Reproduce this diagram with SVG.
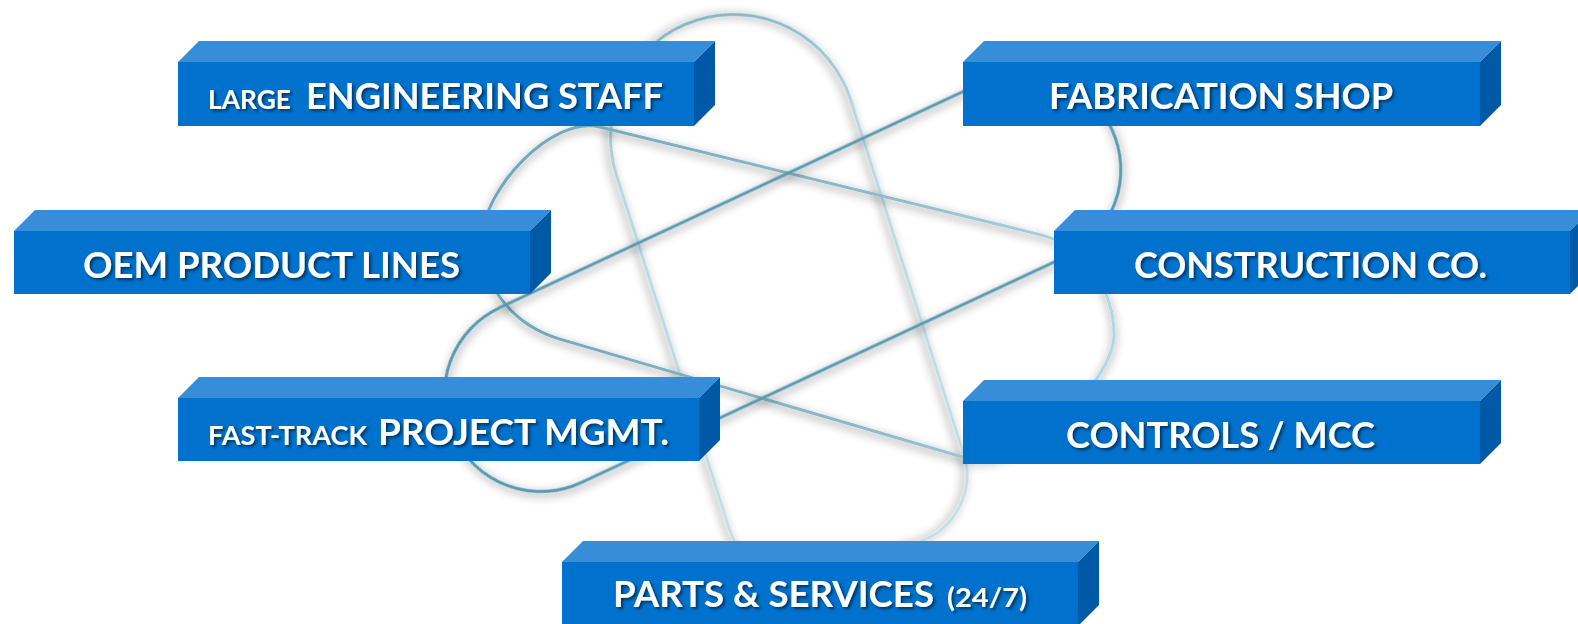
<svg xmlns="http://www.w3.org/2000/svg" width="1578" height="624" viewBox="0 0 1578 624">
  <defs>
    <filter id="ringShadow" x="-20%" y="-20%" width="140%" height="140%">
      <feGaussianBlur in="SourceAlpha" stdDeviation="5"/>
      <feOffset dx="0" dy="3" result="b"/>
      <feComponentTransfer><feFuncA type="linear" slope="0.5"/></feComponentTransfer>
      <feMerge><feMergeNode/><feMergeNode in="SourceGraphic"/></feMerge>
    </filter>
    <filter id="txtShadow" x="-10%" y="-30%" width="120%" height="160%">
      <feDropShadow dx="2" dy="2" stdDeviation="1.6" flood-color="#000" flood-opacity="0.55"/>
    </filter>
    <linearGradient id="gR2" gradientUnits="userSpaceOnUse" x1="480" y1="0" x2="1115" y2="0">
      <stop offset="0" stop-color="#6EA6B9"/>
      <stop offset="0.6" stop-color="#8DBAC8"/>
      <stop offset="1" stop-color="#B0D8E5"/>
    </linearGradient>
    <linearGradient id="gR3" x1="0" y1="0" x2="1" y2="0">
      <stop offset="0" stop-color="#86B6C5"/>
      <stop offset="0.25" stop-color="#B6D7E1"/>
      <stop offset="1" stop-color="#C3DFE8"/>
    </linearGradient>
  </defs>
  <style>
    .ring { fill: none; stroke-width: 3; filter: url(#ringShadow); }
    .front { fill: #0071CD; }
    .top { fill: #378DD8; }
    .side { fill: #0059A6; }
    .lbl { font-family: Lato, "Open Sans", "Liberation Sans", sans-serif; font-weight: bold; fill: #FFFFFF; filter: url(#txtShadow); }
    .big { font-size: 37px; }
    .small { font-size: 26px; }
  </style>
  <rect width="1578" height="624" fill="#FFFFFF"/>

  <g id="rings">
    <path class="ring" stroke="url(#gR3)" stroke-width="2.6" transform="rotate(72.3)" d="M 354 -780 L 725.5 -780 A 70 70 0 0 1 795.5 -710 L 795.5 -604 A 70 70 0 0 1 725.5 -534 L 354 -534 A 123 123 0 0 1 354 -780 Z"/>
    <path class="ring" stroke="url(#gR2)" d="M 600 127 L 1040 234.6 C 1083.7 245.3 1114 290 1114 335 C 1114 380 1022.5 474.6 965 457.7 L 560 339.1 C 516.8 326.4 482 290 482 240 C 482 190 551.5 115.2 600 127 Z"/>
    <rect class="ring" stroke="#5A9AB1" transform="rotate(-25)" x="227" y="490" width="726" height="193" rx="96" ry="96"/>
  </g>

  <g id="node-engineering">
    <polygon class="top" points="178,62 199,41 715,41 694,62"/>
    <polygon class="side" points="694,62 715,41 715,105 694,126"/>
    <rect class="front" x="178" y="62" width="516" height="64"/>
    <text class="lbl small" x="208" y="109" textLength="83" lengthAdjust="spacingAndGlyphs">LARGE</text>
    <text class="lbl big" x="306" y="109" textLength="357" lengthAdjust="spacingAndGlyphs">ENGINEERING STAFF</text>
  </g>

  <g id="node-fabrication">
    <polygon class="top" points="963,62 984,41 1501,41 1480,62"/>
    <polygon class="side" points="1480,62 1501,41 1501,105 1480,126"/>
    <rect class="front" x="963" y="62" width="517" height="64"/>
    <text class="lbl big" x="1049" y="109" textLength="344" lengthAdjust="spacingAndGlyphs">FABRICATION SHOP</text>
  </g>

  <g id="node-oem">
    <polygon class="top" points="14,231 35,210 551,210 530,231"/>
    <polygon class="side" points="530,231 551,210 551,273 530,294"/>
    <rect class="front" x="14" y="231" width="516" height="63"/>
    <text class="lbl big" x="83" y="278" textLength="377" lengthAdjust="spacingAndGlyphs">OEM PRODUCT LINES</text>
  </g>

  <g id="node-construction">
    <polygon class="top" points="1054,231 1075,210 1591,210 1570,231"/>
    <polygon class="side" points="1570,231 1591,210 1591,273 1570,294"/>
    <rect class="front" x="1054" y="231" width="516" height="63"/>
    <text class="lbl big" x="1134" y="278" textLength="353" lengthAdjust="spacingAndGlyphs">CONSTRUCTION CO.</text>
  </g>

  <g id="node-project">
    <polygon class="top" points="178,398 199,377 720,377 699,398"/>
    <polygon class="side" points="699,398 720,377 720,440 699,461"/>
    <rect class="front" x="178" y="398" width="521" height="63"/>
    <text class="lbl small" x="208" y="445" textLength="159" lengthAdjust="spacingAndGlyphs">FAST-TRACK</text>
    <text class="lbl big" x="378" y="445" textLength="291" lengthAdjust="spacingAndGlyphs">PROJECT MGMT.</text>
  </g>

  <g id="node-controls">
    <polygon class="top" points="963,401 984,380 1501,380 1480,401"/>
    <polygon class="side" points="1480,401 1501,380 1501,443 1480,464"/>
    <rect class="front" x="963" y="401" width="517" height="63"/>
    <text class="lbl big" x="1066" y="448" textLength="309" lengthAdjust="spacingAndGlyphs">CONTROLS / MCC</text>
  </g>

  <g id="node-parts">
    <polygon class="top" points="562,562 583,541 1099,541 1078,562"/>
    <polygon class="side" points="1078,562 1099,541 1099,605 1078,626"/>
    <rect class="front" x="562" y="562" width="516" height="64"/>
    <text class="lbl big" x="613" y="607" textLength="321" lengthAdjust="spacingAndGlyphs">PARTS &amp; SERVICES</text>
    <text class="lbl small" x="947" y="607" textLength="80" lengthAdjust="spacingAndGlyphs">(24/7)</text>
  </g>
</svg>
